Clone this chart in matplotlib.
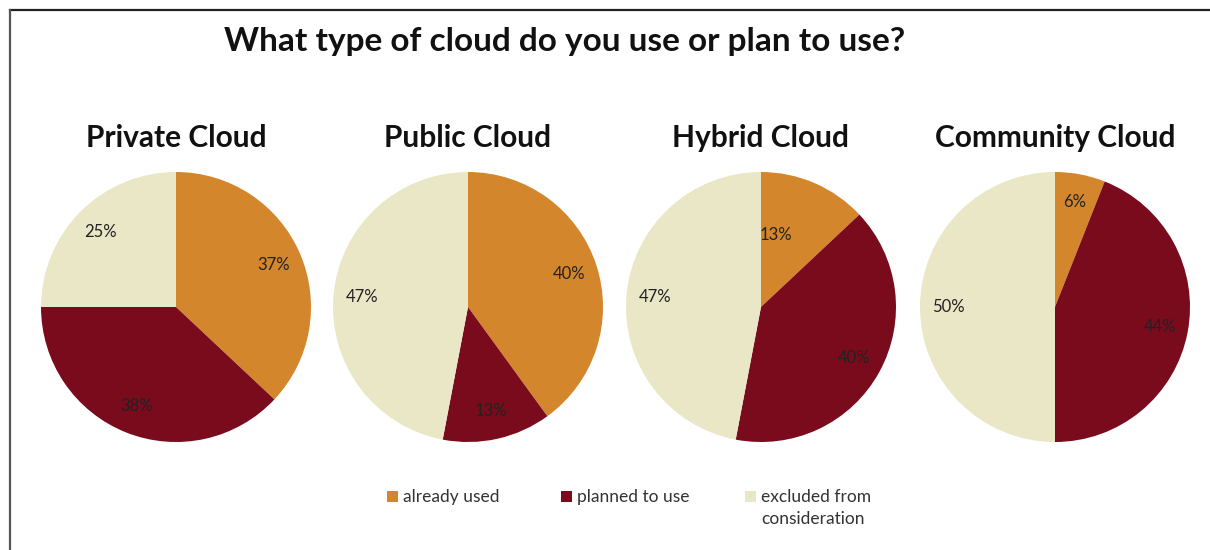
import matplotlib.pyplot as plt
from matplotlib.lines import Line2D
from matplotlib.patches import Rectangle

plt.rcParams['font.family'] = ['Lato', 'DejaVu Sans']

# 数据
clouds = ['Private Cloud', 'Public Cloud', 'Hybrid Cloud', 'Community Cloud']
categories = ['already used', 'planned to use', 'excluded from\nconsideration']
already_used = [37, 40, 13, 6]
planned_to_use = [38, 13, 40, 44]
excluded = [25, 47, 47, 50]
colors = ['#D4862C', '#790B1D', '#EAE7C6']

W, H = 1210, 550
fig = plt.figure(figsize=(W / 100, H / 100), dpi=100)

# 饼图中心 (像素) 和半径
centers_x = [176, 468, 761, 1055]
center_y = 243
radius = 135

for i, name in enumerate(clouds):
    cx = centers_x[i]
    ax = fig.add_axes([(cx - radius) / W, (center_y - radius) / H,
                       2 * radius / W, 2 * radius / H])
    vals = [already_used[i], planned_to_use[i], excluded[i]]
    wedges, texts, autotexts = ax.pie(
        vals, colors=colors, startangle=90, counterclock=False,
        autopct=lambda p: '%d%%' % round(p), pctdistance=0.79,
        radius=1, wedgeprops=dict(linewidth=0),
        textprops=dict(fontsize=12, color='#222222'))
    ax.set_xlim(-1, 1)
    ax.set_ylim(-1, 1)
    ax.set_aspect('equal')
    # 混合云的小块标签放在靠近中心的位置
    if name == 'Hybrid Cloud':
        autotexts[0].set_position((0.11, 0.53))
    fig.text(cx / W, 412 / H, name, ha='center', va='center',
             fontsize=21.5, fontweight='bold', color='#111111')

# 标题
fig.text(565 / W, 508 / H, 'What type of cloud do you use or plan to use?',
         ha='center', va='center', fontsize=24, fontweight='bold',
         color='#111111')

# 图例 (手动画方块和文字, 多行标签逐行画)
legend_x = [387, 561, 745]
sq = 11
for x, c, lab in zip(legend_x, colors, categories):
    fig.add_artist(Rectangle((x / W, 1 - 502 / H), sq / W, sq / H,
                             transform=fig.transFigure, facecolor=c,
                             edgecolor='none'))
    for k, line in enumerate(lab.split('\n')):
        fig.text((x + sq + 5) / W, 1 - (502 + 22 * k) / H, line,
                 ha='left', va='baseline', fontsize=12.5, color='#333333')

# 边框线
fig.add_artist(Line2D([10 / W, 1], [1 - 9.5 / H, 1 - 9.5 / H],
                      transform=fig.transFigure, color='#222222', lw=1.6))
fig.add_artist(Line2D([10 / W, 10 / W], [0, 1 - 9.5 / H],
                      transform=fig.transFigure, color='#555555', lw=1.6))

fig.savefig('out.png', dpi=100)
